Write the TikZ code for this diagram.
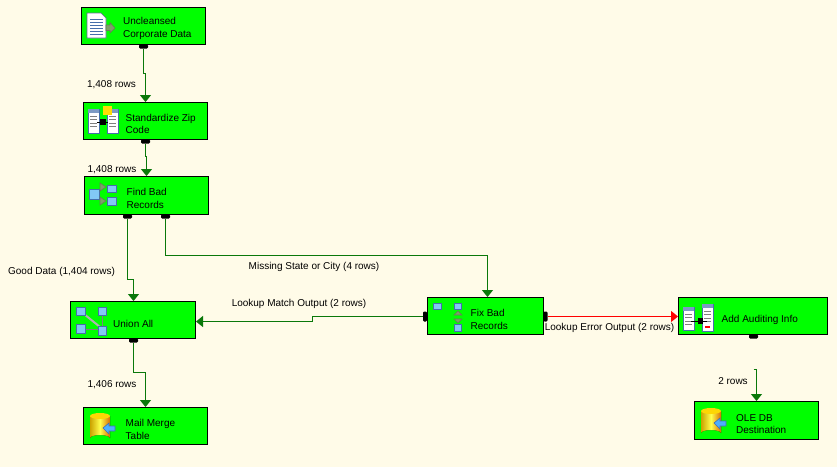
\documentclass[tikz,border=0pt]{standalone}
\usepackage{fontspec}
\setmainfont{Liberation Sans}
\usetikzlibrary{arrows.meta,calc,backgrounds}
\definecolor{paper}{RGB}{255,251,232}
\definecolor{flowgreen}{RGB}{10,120,10}
\definecolor{iconblue}{RGB}{130,200,245}
\definecolor{iconedge}{RGB}{70,110,170}
\definecolor{arrowgrey}{RGB}{125,160,105}
\tikzset{
	comp/.style={draw=black, line width=1pt, fill=green, minimum width=124pt, minimum height=37pt, inner sep=0pt},
	comptext/.style={anchor=west, align=left, inner sep=0pt, font=\fontsize{10}{12.5}\selectfont},
	rowlabel/.style={inner sep=0pt, font=\fontsize{10}{12}\selectfont},
	flow/.style={draw=flowgreen, line width=1pt, -{Triangle[length=7pt,width=11pt]}},
	errflow/.style={flow, draw=red},
	port/.style={fill=black, rounded corners=1.2pt, inner sep=0pt, minimum width=9pt, minimum height=4pt},
	sideport/.style={port, minimum width=4pt, minimum height=10pt},
	sq/.style={draw=iconedge, fill=iconblue, line width=0.6pt},
	arr/.style={draw=arrowgrey!80!black, fill=arrowgrey, line width=0.6pt},
}
% icons, drawn at their top left corner
\def\dbicon(#1,#2){\begin{scope}[shift={(#1,#2)}]
	\fill[left color=yellow!60!orange!80!black, right color=orange!85!black, middle color=yellow!70!white] (0,3) -- (0,25) arc (180:360:10 and 3) -- (20,3) -- cycle;
	\fill[yellow!75!orange] (10,3) ellipse (10 and 3);
	\draw[iconedge, fill=blue!45!cyan!70!white, line width=0.6pt] (13,15) -- (19,10) -- (19,13) -- (25,13) -- (25,18) -- (19,18) -- (19,21) -- cycle;
\end{scope}}
\def\colicon(#1,#2,#3){\begin{scope}[shift={(#1,#2)}]
	\draw[iconedge, fill=white, line width=0.6pt] (0,0) rectangle (11,#3);
	\fill[iconedge!70!white] (0,0) rectangle (11,4);
	\foreach \rowy in {7,10.5,...,20} \draw[gray, line width=0.6pt] (2,\rowy) -- (9,\rowy);
\end{scope}}
\begin{document}
\begin{tikzpicture}[x=1pt, y=-1pt]
	%%%%% BOXES %%%%%
	\useasboundingbox (0,0) rectangle (837,467);
	\fill[paper] (0,0) rectangle (837,467);
	
	\node[comp] (uncleansed) at (143.5,26) {};
	\node[comp] (standardize) at (145.5,121) {};
	\node[comp, minimum height=38pt] (find) at (146.5,195.5) {};
	\node[comp, minimum width=125pt] (union) at (133,320) {};
	\node[comp] (mail) at (145.5,426) {};
	\node[comp, minimum width=116pt] (fix) at (485.5,316) {};
	\node[comp, minimum width=149pt] (audit) at (753,316) {};
	\node[comp, minimum height=38pt] (ole) at (756.5,420.5) {};
	
	\node[comptext] (uncleansedtext) at (123,28.5) {Uncleansed\\Corporate Data};
	\node[comptext] (standardizetext) at (125.5,124) {Standardize Zip\\Code};
	\node[comptext] (findtext) at (126.5,198.5) {Find Bad\\Records};
	\node[comptext] (uniontext) at (113,324) {Union All};
	\node[comptext] (mailtext) at (125.5,429.5) {Mail Merge\\Table};
	\node[comptext] (fixtext) at (470.5,319.5) {Fix Bad\\Records};
	\node[comptext] (audittext) at (721.5,320) {Add Auditing Info};
	\node[comptext] (oletext) at (736,424) {OLE DB\\Destination};
	
	%%%%% ICONS %%%%%
	\draw[gray!80!blue, fill=white, line width=0.7pt] (87,13) -- (101,13) -- (106,18) -- (106,38) -- (87,38) -- cycle;
	\foreach \rowy in {19,22,...,36} \draw[iconedge, line width=0.6pt] (90,\rowy) -- (103,\rowy);
	\draw[arr] (106,25) -- (110,25) -- (110,22.5) -- (115,28) -- (110,33) -- (110,30.5) -- (106,30.5) -- cycle;
	
	\colicon(88,109,24)
	\colicon(107,109,24)
	\draw[black, line width=1pt] (97,122) -- (108,122);
	\fill[black] (100,118.5) rectangle (106,124.5);
	\fill[yellow!80!orange] (103,106) rectangle (112,115);
	
	\draw[sq] (89.5,189) rectangle (99,199);
	\draw[sq] (107,185) rectangle (116,192);
	\draw[sq] (107,197) rectangle (116,205);
	\draw[arr] (100,183) -- (106,187) -- (100,191) -- cycle;
	\draw[arr] (100,197) -- (106,201) -- (100,205) -- cycle;
	
	\draw[gray, line width=0.8pt] (102,311) -- (102,328) (80,329) -- (102,329);
	\draw[gray!60, line width=2pt] (84,314) -- (100,327);
	\draw[sq] (76,307) rectangle (85,315);
	\draw[sq] (98,307) rectangle (106,315);
	\draw[sq] (76,324) rectangle (85,333);
	\draw[sq] (98,326) rectangle (106,335);
	
	\dbicon(90,413)
	\dbicon(701,408)
	
	\draw[sq] (433.5,303.5) rectangle (441.5,309);
	\draw[sq] (454.5,303.5) rectangle (461.5,309.5);
	\draw[sq] (454.5,324) rectangle (461.5,331);
	\draw[arr] (454,315) -- (458,311) -- (462,315) -- cycle;
	\draw[arr] (454,319) -- (458,323) -- (462,319) -- cycle;
	
	\colicon(683,307,23)
	\colicon(702,304,27)
	\draw[black, line width=1pt] (691,321) -- (707,321);
	\fill[black] (698,318) rectangle (703,324);
	\fill[red] (705,326) rectangle (710,328);
	
	%%%%% PORTS %%%%%
	\node[port] (uncleansedout) at (143.5,46.5) {};
	\node[port] (standardizeout) at (145.5,141.5) {};
	\node[port] (findgood) at (127.5,216.5) {};
	\node[port] (findbad) at (165.5,216.5) {};
	\node[port] (unionout) at (133.5,340.5) {};
	\node[sideport] (fixin) at (425,316.5) {};
	\node[sideport] (fixout) at (545.5,316.5) {};
	\node[port] (auditout) at (753.5,336.5) {};
	\coordinate (auditgap) at (753.5,369.5);
	
	%%%%% CONNECTORS %%%%%
	\draw[flow] (uncleansedout) -- (143.5,73.5) -| (standardize.north);
	\draw[flow] (standardizeout) -- (145.5,156.5) -| (find.north);
	\draw[flow] (findgood) -- (127.5,279.5) -| ([xshift=.5pt]union.north);
	\draw[flow] (findbad) -- (165.5,255.5) -| ([xshift=2pt]fix.north);
	\draw[flow] (unionout) -- (133.5,372.5) -| (mail.north);
	\draw[flow] (fixin) -- (312.5,316.5) |- ([yshift=-1.5pt]union.east);
	\draw[errflow] (fixout) -- ([yshift=-.5pt]audit.west);
	\draw[flow] (auditgap) -| (ole.north);
	
	%%%%% LABELS %%%%%
	\node[rowlabel] (rows1) at (111.5,85) {1,408 rows};
	\node[rowlabel] (rows2) at (112,170) {1,408 rows};
	\node[rowlabel] (gooddata) at (61.5,272) {Good Data (1,404 rows)};
	\node[rowlabel] (rows3) at (112,385) {1,406 rows};
	\node[rowlabel] (missing) at (314,267) {Missing State or City (4 rows)};
	\node[rowlabel] (matchout) at (299,304) {Lookup Match Output (2 rows)};
	\node[rowlabel] (errorout) at (609.5,328) {Lookup Error Output (2 rows)};
	\node[rowlabel] (rows4) at (733,381) {2 rows};
\end{tikzpicture}
\end{document}
